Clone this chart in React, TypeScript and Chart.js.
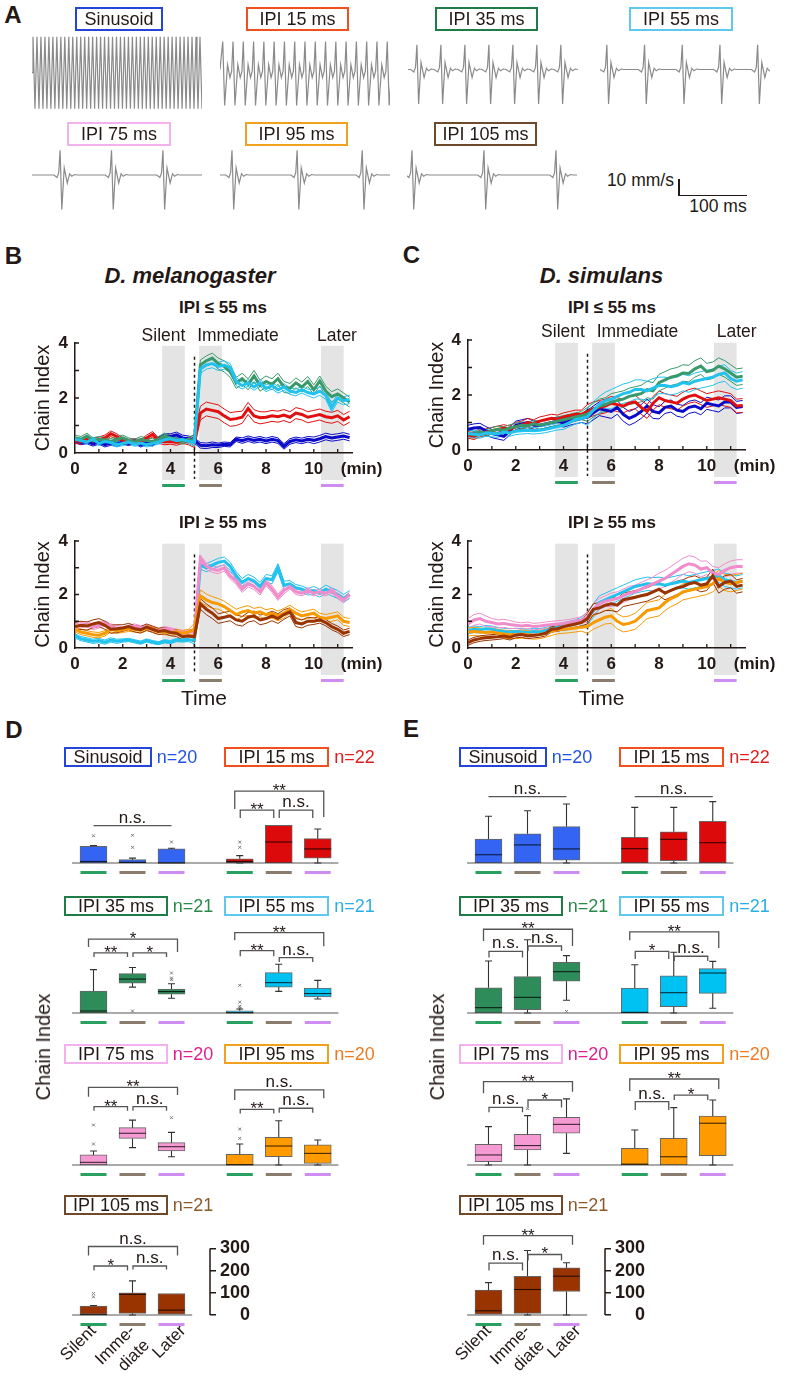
import React, { useEffect, useRef } from 'react';
import { Chart, registerables } from 'chart.js';

Chart.register(...registerables);

const FONT = '"Liberation Sans", Arial, Helvetica, sans-serif';
const INK = '#231815';
Chart.defaults.font.family = FONT;
Chart.defaults.color = INK;

// ---------------- Panel A : song waveforms (mm/s vs ms) ----------------
const PULSE_SHAPE = [[-9, 0], [-4.5, -1.5], [-2, 1.5], [0, 15.5], [2.5, -21.5], [6, 4.5], [10.5, -5], [14, 0.8], [17, -0.8], [21, 0.3], [25, 0]];
const SINE_CYCLE = [[0, -2], [1.45, 20.5], [2.9, -2], [4.35, -24.5]];
const IPI15_CYCLE = [[0, 17.5], [2.8, -22.5], [7, 3], [10.5, -5], [13, -1]];
const TRACE_NAMES = ['Sinusoid', 'IPI 15 ms', 'IPI 35 ms', 'IPI 55 ms', 'IPI 75 ms', 'IPI 95 ms', 'IPI 105 ms'];
const TRACE_PERIOD_MS = [5.8, 15, 35, 55, 75, 95, 105];
const TRACE_FIRST_MS = [0, 4, 13, 10, 41, 17.5, 7.3];
const TRACE_COUNT = [44, 17, 7, 5, 3, 3, 3];
const TRACE_MS = 248;

// ---------------- Panels B, C : chain index time courses ----------------
const TIME_MIN = [0, 0.25, 0.5, 0.75, 1, 1.25, 1.5, 1.75, 2, 2.25, 2.5, 2.75, 3, 3.25, 3.5, 3.75, 4, 4.25, 4.5, 4.75, 5, 5.25, 5.5, 5.75, 6, 6.25, 6.5, 6.75, 7, 7.25, 7.5, 7.75, 8, 8.25, 8.5, 8.75, 9, 9.25, 9.5, 9.75, 10, 10.25, 10.5, 10.75, 11, 11.25, 11.5];
const X_TICKS = [0, 2, 4, 6, 8, 10];
const Y_TICKS = [0, 2, 4];
const PERIOD_WINDOWS = [[3.65, 4.6], [5.2, 6.15], [10.3, 11.25]];
const STIM_ONSET = 5;

// D. melanogaster, IPI <= 55 ms
const MEL_LO_SIN_MEAN = [0.45, 0.38, 0.42, 0.33, 0.40, 0.30, 0.36, 0.32, 0.40, 0.35, 0.42, 0.30, 0.38, 0.33, 0.50, 0.62, 0.60, 0.66, 0.55, 0.52, 0.45, 0.28, 0.26, 0.30, 0.28, 0.32, 0.30, 0.50, 0.45, 0.52, 0.46, 0.50, 0.44, 0.50, 0.45, 0.24, 0.42, 0.48, 0.44, 0.50, 0.46, 0.52, 0.60, 0.55, 0.58, 0.62, 0.56];
const MEL_LO_SIN_SEM = [0.08, 0.08, 0.08, 0.08, 0.1, 0.1, 0.08, 0.1, 0.1, 0.1, 0.12, 0.12];
const MEL_LO_15_MEAN = [0.45, 0.42, 0.50, 0.44, 0.48, 0.55, 0.70, 0.60, 0.45, 0.40, 0.42, 0.38, 0.55, 0.68, 0.45, 0.40, 0.42, 0.38, 0.45, 0.40, 0.45, 1.45, 1.60, 1.55, 1.50, 1.35, 1.22, 1.25, 1.30, 1.62, 1.35, 1.28, 1.30, 1.35, 1.32, 1.38, 1.30, 1.45, 1.40, 1.30, 1.35, 1.40, 1.32, 1.28, 1.35, 1.20, 1.32];
const MEL_LO_15_SEM = [0.1, 0.1, 0.1, 0.1, 0.1, 0.25, 0.25, 0.22, 0.2, 0.2, 0.2, 0.2];
const MEL_LO_35_MEAN = [0.55, 0.50, 0.62, 0.45, 0.50, 0.48, 0.42, 0.50, 0.55, 0.45, 0.40, 0.50, 0.45, 0.42, 0.50, 0.62, 0.55, 0.48, 0.42, 0.50, 0.45, 3.20, 3.35, 3.45, 3.25, 3.15, 2.95, 2.55, 2.70, 2.50, 2.80, 2.45, 2.60, 2.50, 2.70, 2.40, 2.35, 2.55, 2.40, 2.60, 2.30, 2.62, 2.25, 2.05, 2.15, 2.00, 1.85];
const MEL_LO_35_SEM = [0.1, 0.1, 0.1, 0.1, 0.1, 0.18, 0.2, 0.2, 0.2, 0.18, 0.18, 0.18];
const MEL_LO_55_MEAN = [0.50, 0.45, 0.40, 0.50, 0.35, 0.42, 0.38, 0.30, 0.35, 0.40, 0.32, 0.36, 0.30, 0.35, 0.40, 0.48, 0.52, 0.45, 0.50, 0.42, 0.40, 3.05, 3.20, 3.25, 3.15, 3.20, 3.10, 2.60, 2.45, 2.55, 2.40, 2.55, 2.35, 2.45, 2.30, 2.40, 2.25, 2.20, 2.30, 2.20, 2.15, 2.25, 2.10, 1.65, 2.00, 1.90, 1.95];
const MEL_LO_55_SEM = [0.08, 0.08, 0.08, 0.08, 0.08, 0.15, 0.15, 0.12, 0.12, 0.12, 0.15, 0.15];

// D. melanogaster, IPI >= 55 ms
const MEL_HI_55_MEAN = [0.45, 0.35, 0.30, 0.25, 0.28, 0.22, 0.30, 0.25, 0.28, 0.30, 0.25, 0.20, 0.28, 0.22, 0.18, 0.25, 0.22, 0.30, 0.28, 0.30, 0.30, 3.10, 3.00, 3.10, 3.20, 3.25, 3.05, 2.70, 2.45, 2.60, 2.50, 2.30, 2.60, 2.55, 3.00, 2.35, 2.40, 2.25, 2.20, 2.10, 2.15, 2.05, 2.20, 2.10, 2.00, 1.85, 2.00];
const MEL_HI_55_SEM = [0.08, 0.08, 0.06, 0.06, 0.06, 0.15, 0.15, 0.15, 0.15, 0.12, 0.15, 0.15];
const MEL_HI_75_MEAN = [0.80, 0.85, 0.90, 0.78, 0.85, 0.92, 0.80, 0.75, 0.70, 0.78, 0.82, 0.75, 0.80, 0.70, 0.65, 0.72, 0.68, 0.62, 0.58, 0.60, 0.60, 3.35, 3.05, 2.95, 2.90, 3.00, 2.70, 2.50, 2.20, 2.40, 2.30, 2.10, 2.45, 2.20, 1.90, 2.15, 2.30, 2.10, 2.05, 2.15, 2.05, 2.10, 2.05, 2.15, 1.95, 1.80, 2.00];
const MEL_HI_75_SEM = [0.1, 0.1, 0.08, 0.08, 0.08, 0.12, 0.12, 0.12, 0.12, 0.1, 0.1, 0.1];
const MEL_HI_95_MEAN = [0.70, 0.60, 0.55, 0.50, 0.48, 0.55, 0.70, 0.65, 0.68, 0.72, 0.70, 0.66, 0.75, 0.70, 0.62, 0.60, 0.58, 0.60, 0.55, 0.60, 0.70, 1.95, 1.80, 1.70, 1.65, 1.55, 1.40, 1.25, 1.35, 1.40, 1.30, 1.35, 1.25, 1.30, 1.20, 1.30, 1.45, 1.30, 1.20, 1.25, 1.30, 1.15, 1.10, 1.15, 1.20, 1.00, 0.95];
const MEL_HI_95_SEM = [0.1, 0.1, 0.1, 0.1, 0.1, 0.22, 0.2, 0.18, 0.18, 0.15, 0.15, 0.15];
const MEL_HI_105_MEAN = [0.80, 0.85, 0.82, 0.90, 0.95, 0.85, 0.70, 0.72, 0.75, 0.80, 0.72, 0.68, 0.78, 0.70, 0.62, 0.65, 0.58, 0.55, 0.42, 0.45, 0.42, 1.65, 1.45, 1.30, 1.10, 1.15, 1.20, 1.05, 1.00, 1.15, 1.20, 1.05, 1.10, 1.20, 1.10, 1.25, 1.35, 0.95, 0.90, 1.00, 1.00, 1.05, 0.95, 0.80, 0.70, 0.55, 0.62];
const MEL_HI_105_SEM = [0.15, 0.15, 0.12, 0.12, 0.12, 0.2, 0.18, 0.18, 0.18, 0.15, 0.12, 0.12];

// D. simulans, IPI <= 55 ms
const SIM_LO_SIN_MEAN = [0.75, 0.80, 0.82, 0.70, 0.60, 0.55, 0.50, 0.70, 0.90, 0.95, 1.00, 0.90, 0.90, 0.95, 1.00, 1.05, 0.98, 1.05, 1.10, 1.15, 1.20, 1.35, 1.50, 1.45, 1.40, 1.55, 1.30, 1.15, 1.25, 1.40, 1.60, 1.40, 1.35, 1.55, 1.60, 1.45, 1.40, 1.55, 1.60, 1.50, 1.70, 1.65, 1.60, 1.75, 1.75, 1.55, 1.58];
const SIM_LO_SIN_SEM = [0.15, 0.15, 0.15, 0.15, 0.15, 0.25, 0.25, 0.25, 0.22, 0.22, 0.22, 0.22];
const SIM_LO_15_MEAN = [0.55, 0.50, 0.60, 0.65, 0.70, 0.75, 0.80, 0.75, 0.85, 0.90, 1.00, 0.95, 1.05, 1.10, 1.15, 1.12, 1.20, 1.25, 1.30, 1.30, 1.40, 1.50, 1.55, 1.60, 1.70, 1.65, 1.60, 1.70, 1.75, 1.55, 1.40, 1.70, 1.90, 1.80, 1.75, 1.70, 1.85, 1.95, 2.00, 1.90, 1.80, 1.85, 1.90, 1.85, 1.80, 1.60, 1.62];
const SIM_LO_15_SEM = [0.12, 0.12, 0.15, 0.15, 0.15, 0.25, 0.25, 0.25, 0.25, 0.25, 0.25, 0.25];
const SIM_LO_35_MEAN = [0.60, 0.55, 0.65, 0.62, 0.70, 0.75, 0.72, 0.80, 0.85, 0.90, 0.88, 0.95, 0.90, 0.95, 1.00, 1.05, 1.10, 1.15, 1.20, 1.25, 1.30, 1.45, 1.60, 1.65, 1.75, 1.80, 1.85, 1.95, 2.00, 2.05, 2.20, 2.15, 2.45, 2.55, 2.65, 2.70, 2.80, 2.78, 2.95, 3.05, 2.85, 2.90, 3.05, 2.95, 2.80, 2.65, 2.68];
const SIM_LO_35_SEM = [0.12, 0.12, 0.12, 0.15, 0.15, 0.25, 0.3, 0.3, 0.3, 0.3, 0.3, 0.3];
const SIM_LO_55_MEAN = [0.60, 0.58, 0.55, 0.62, 0.60, 0.58, 0.65, 0.62, 0.68, 0.70, 0.72, 0.70, 0.72, 0.75, 0.80, 0.85, 0.90, 1.00, 1.10, 1.15, 1.20, 1.45, 1.65, 1.80, 1.85, 1.95, 2.05, 2.10, 2.20, 2.20, 2.15, 2.25, 2.35, 2.35, 2.30, 2.35, 2.45, 2.40, 2.50, 2.55, 2.60, 2.65, 2.75, 2.80, 2.60, 2.50, 2.55];
const SIM_LO_55_SEM = [0.12, 0.12, 0.12, 0.12, 0.15, 0.3, 0.35, 0.35, 0.3, 0.3, 0.3, 0.3];

// D. simulans, IPI >= 55 ms
const SIM_HI_55_MEAN = [0.65, 0.70, 0.68, 0.72, 0.70, 0.65, 0.62, 0.60, 0.62, 0.60, 0.58, 0.62, 0.60, 0.65, 0.70, 0.78, 0.80, 0.85, 0.90, 1.00, 1.10, 1.40, 1.70, 1.80, 1.90, 2.00, 2.10, 2.20, 2.30, 2.35, 2.40, 2.38, 2.40, 2.35, 2.40, 2.45, 2.50, 2.45, 2.50, 2.55, 2.60, 2.65, 2.70, 2.55, 2.50, 2.45, 2.50];
const SIM_HI_55_SEM = [0.12, 0.12, 0.12, 0.12, 0.15, 0.25, 0.25, 0.25, 0.25, 0.25, 0.25, 0.25];
const SIM_HI_75_MEAN = [0.90, 1.05, 1.10, 1.00, 0.95, 0.90, 0.92, 0.88, 0.85, 0.82, 0.85, 0.80, 0.82, 0.85, 0.88, 0.90, 0.92, 0.95, 1.00, 1.05, 1.15, 1.45, 1.65, 1.75, 1.80, 1.85, 1.95, 2.05, 2.10, 2.20, 2.30, 2.40, 2.50, 2.60, 2.75, 2.90, 3.05, 3.15, 3.10, 2.95, 3.00, 2.80, 2.75, 2.90, 3.00, 3.05, 3.05];
const SIM_HI_75_SEM = [0.2, 0.15, 0.12, 0.12, 0.12, 0.2, 0.25, 0.25, 0.3, 0.3, 0.25, 0.25];
const SIM_HI_95_MEAN = [0.60, 0.62, 0.60, 0.58, 0.60, 0.55, 0.52, 0.50, 0.50, 0.52, 0.50, 0.48, 0.50, 0.55, 0.62, 0.68, 0.70, 0.72, 0.75, 0.78, 0.80, 0.95, 1.05, 1.15, 1.20, 1.00, 0.88, 0.92, 1.00, 1.20, 1.40, 1.45, 1.50, 1.70, 1.85, 1.95, 2.10, 2.15, 2.20, 2.25, 2.30, 2.40, 2.60, 2.45, 2.40, 2.45, 2.50];
const SIM_HI_95_SEM = [0.15, 0.15, 0.15, 0.15, 0.15, 0.25, 0.28, 0.3, 0.3, 0.3, 0.3, 0.3];
const SIM_HI_105_MEAN = [0.20, 0.30, 0.35, 0.38, 0.40, 0.42, 0.45, 0.40, 0.48, 0.50, 0.45, 0.48, 0.50, 0.55, 0.70, 0.72, 0.80, 0.85, 0.90, 0.95, 1.10, 1.45, 1.50, 1.60, 1.65, 1.60, 1.80, 1.85, 1.90, 1.95, 2.00, 2.10, 2.20, 2.05, 2.15, 2.25, 2.30, 2.40, 2.45, 2.35, 2.40, 2.70, 2.30, 2.45, 2.50, 2.30, 2.35];
const SIM_HI_105_SEM = [0.1, 0.1, 0.1, 0.1, 0.12, 0.2, 0.25, 0.25, 0.25, 0.25, 0.25, 0.25];

// ---------------- Panels D, E : box plots [low whisker, Q1, median, Q3, high whisker] ----------------
const PERIOD_LABELS = ['Silent', ['Imme-', 'diate'], 'Later'];
const AXIS_TICKS = [0, 100, 200, 300];
const N_MEL = [20, 22, 21, 21, 20, 20, 21];
const N_SIM = [20, 22, 21, 21, 20, 20, 21];

const MEL_SIN_BOX = [[0, 0, 7, 75, 78], [0, 0, 3, 15, 22], [0, 0, 0, 63, 66]];
const MEL_SIN_OUT = [[122], [124, 70], [94]];
const MEL_SIN_SIG = [[0, 2, 167, 167, 167, 'n.s.']];
const MEL_15_BOX = [[0, 2, 7, 19, 33], [0, 0, 94, 169, 169], [0, 22, 63, 109, 152]];
const MEL_15_OUT = [[94, 70], [], []];
const MEL_15_SIG = [[0, 1, 237, 201, 201, '**'], [1, 2, 237, 201, 201, 'n.s.'], [0, 2, 322, 242, 206, '**']];
const MEL_35_BOX = [[0, 0, 9, 98, 194], [116, 134, 152, 176, 204], [66, 84, 96, 107, 131]];
const MEL_35_OUT = [[], [9], [179, 157, 149]];
const MEL_35_SIG = [[0, 1, 269, 251, 251, '**'], [1, 2, 269, 251, 251, '*'], [0, 2, 331, 296, 273, '*']];
const MEL_55_BOX = [[0, 0, 1, 10, 18], [97, 116, 136, 181, 218], [63, 72, 87, 112, 146]];
const MEL_55_OUT = [[124, 49, 30, 22], [], []];
const MEL_55_SIG = [[0, 1, 279, 254, 254, '**'], [1, 2, 248, 228, 228, 'n.s.'], [0, 2, 360, 326, 299, '**']];
const MEL_75_BOX = [[0, 0, 12, 45, 63], [78, 119, 142, 167, 201], [37, 63, 82, 100, 146]];
const MEL_75_OUT = [[94, 179], [], [212]];
const MEL_75_SIG = [[0, 1, 261, 243, 243, '**'], [1, 2, 261, 243, 243, 'n.s.'], [0, 2, 348, 306, 313, '**']];
const MEL_95_BOX = [[0, 0, 1, 48, 94], [0, 37, 85, 124, 198], [0, 7, 52, 90, 112]];
const MEL_95_OUT = [[119, 161], [], []];
const MEL_95_SIG = [[0, 1, 249, 231, 231, '**'], [1, 2, 254, 234, 234, 'n.s.'], [0, 2, 336, 291, 299, 'n.s.']];
const MEL_105_BOX = [[0, 0, 2, 40, 43], [0, 7, 93, 100, 154], [0, 0, 22, 97, 97]];
const MEL_105_OUT = [[97, 82], [], []];
const MEL_105_SIG = [[0, 1, 221, 201, 201, '*'], [1, 2, 221, 205, 205, 'n.s.'], [0, 2, 309, 269, 269, 'n.s.']];

const SIM_SIN_BOX = [[0, 0, 37, 107, 209], [0, 0, 81, 131, 234], [0, 13, 63, 163, 264]];
const SIM_SIN_OUT = [[], [], []];
const SIM_SIN_SIG = [[0, 2, 297, 297, 297, 'n.s.']];
const SIM_15_BOX = [[0, 0, 64, 115, 249], [0, 10, 106, 140, 249], [0, 0, 91, 187, 275]];
const SIM_15_OUT = [[], [], []];
const SIM_15_SIG = [[0, 2, 297, 297, 297, 'n.s.']];
const SIM_35_BOX = [[0, 0, 24, 113, 233], [0, 15, 70, 163, 328], [57, 142, 185, 227, 257]];
const SIM_35_OUT = [[], [], [7]];
const SIM_35_SIG = [[0, 1, 276, 248, 248, 'n.s.'], [1, 2, 300, 278, 278, 'n.s.'], [0, 2, 375, 322, 300, '**']];
const SIM_55_BOX = [[0, 0, 3, 112, 216], [0, 28, 91, 166, 272], [21, 88, 179, 199, 231]];
const SIM_55_OUT = [[], [], []];
const SIM_55_SIG = [[0, 1, 276, 242, 242, '*'], [1, 2, 254, 233, 233, 'n.s.'], [0, 2, 363, 326, 291, '**']];
const SIM_75_BOX = [[0, 15, 45, 93, 172], [0, 67, 87, 137, 221], [52, 142, 182, 213, 296]];
const SIM_75_OUT = [[], [252], []];
const SIM_75_SIG = [[0, 1, 258, 236, 236, 'n.s.'], [1, 2, 291, 258, 258, '*'], [0, 2, 373, 321, 328, '**']];
const SIM_95_BOX = [[0, 0, 4, 75, 157], [0, 0, 37, 119, 257], [0, 42, 187, 219, 291]];
const SIM_95_OUT = [[], [], []];
const SIM_95_SIG = [[0, 1, 284, 246, 246, 'n.s.'], [1, 2, 313, 291, 291, '*'], [0, 2, 385, 331, 340, '**']];
const SIM_105_BOX = [[0, 0, 19, 112, 146], [0, 7, 115, 175, 291], [0, 106, 175, 213, 236]];
const SIM_105_OUT = [[], [], []];
const SIM_105_SIG = [[0, 1, 234, 201, 201, 'n.s.'], [1, 2, 273, 246, 246, '*'], [0, 2, 358, 317, 317, '**']];

// ---------------- styles ----------------
const GROUP_EDGE = ['#2446d8', '#f0501e', '#1f7c47', '#5ec8ee', '#f3b2ee', '#f0a21e', '#6f4a2a'];
const GROUP_FILL = ['#3465f2', '#dc0a0a', '#2e8b5a', '#00c2f2', '#f59ad2', '#ff9a00', '#993300'];
const N_COLOR = ['#2452e8', '#e01e1e', '#2a8a4a', '#29aee6', '#e0208f', '#f07a20', '#8b5a2b'];
const LINE_COLOR = ['#0a0ac8', '#e01010', '#38996a', '#22c2ee', '#f08ccb', '#f79a00', '#993300'];
const PERIOD_COLORS = ['#27a060', '#8b7c6d', '#cf8df2'];

const baseOptions = () => ({
  animation: false,
  responsive: false,
  maintainAspectRatio: false,
  devicePixelRatio: 1,
  events: [],
  plugins: { legend: { display: false }, tooltip: { enabled: false } },
});

// ---------------- Panel A config ----------------
function buildTrace(k: number) {
  const cycle = k === 0 ? SINE_CYCLE : k === 1 ? IPI15_CYCLE : PULSE_SHAPE;
  const pts: { x: number; y: number }[] = [];
  for (let n = 0; n < TRACE_COUNT[k]; n++) {
    for (const [dt, v] of cycle) pts.push({ x: TRACE_FIRST_MS[k] + n * TRACE_PERIOD_MS[k] + dt, y: v });
  }
  pts.sort((a, b) => a.x - b.x);
  if (pts[0].x > 0) pts.unshift({ x: 0, y: 0 });
  if (pts[pts.length - 1].x < TRACE_MS) pts.push({ x: TRACE_MS, y: 0 });
  return pts;
}

function traceConfig(k: number, baseRel: number, h: number) {
  const pxPerUnit = 1.6;
  return {
    type: 'line',
    data: { datasets: [{ data: buildTrace(k), borderColor: '#8a8a8a', borderWidth: 1.2, pointRadius: 0, tension: 0 }] },
    options: {
      ...baseOptions(),
      layout: { padding: 0 },
      scales: {
        x: { type: 'linear', display: false, min: 0, max: TRACE_MS },
        y: { type: 'linear', display: false, min: -(h - baseRel) / pxPerUnit, max: baseRel / pxPerUnit },
      },
    },
  };
}

// ---------------- Panels B/C config ----------------
function timeDecor() {
  return {
    id: 'timeDecor',
    beforeDraw(chart: any) {
      const { ctx, chartArea: a, scales } = chart;
      const X = scales.x, Y = scales.y;
      ctx.save();
      ctx.fillStyle = '#e4e4e4';
      const yt = Y.getPixelForValue(3.9);
      for (const [s, e] of PERIOD_WINDOWS) {
        const x1 = X.getPixelForValue(s), x2 = X.getPixelForValue(e);
        ctx.fillRect(x1, yt, x2 - x1, a.bottom + 27 - yt);
      }
      ctx.restore();
    },
    beforeDatasetsDraw(chart: any) {
      const { ctx, chartArea: a, scales } = chart;
      const xp = Math.round(scales.x.getPixelForValue(STIM_ONSET)) + 0.5;
      ctx.save();
      ctx.strokeStyle = INK;
      ctx.lineWidth = 1.5;
      ctx.setLineDash([3, 3]);
      ctx.beginPath();
      ctx.moveTo(xp, scales.y.getPixelForValue(3.5));
      ctx.lineTo(xp, a.bottom + 26);
      ctx.stroke();
      ctx.restore();
    },
    afterDraw(chart: any) {
      const { ctx, chartArea: a, scales } = chart;
      const X = scales.x, Y = scales.y;
      ctx.save();
      ctx.strokeStyle = INK;
      ctx.lineWidth = 1.3;
      ctx.beginPath();
      for (let t = 1; t <= 11; t++) {
        const xp = X.getPixelForValue(t);
        ctx.moveTo(xp, a.bottom);
        ctx.lineTo(xp, a.bottom - 4);
      }
      for (let v = 1; v <= 4; v++) {
        const yp = Y.getPixelForValue(v);
        ctx.moveTo(a.left, yp);
        ctx.lineTo(a.left + 4, yp);
      }
      ctx.stroke();
      PERIOD_WINDOWS.forEach(([s, e], i) => {
        const x1 = X.getPixelForValue(s), x2 = X.getPixelForValue(e);
        ctx.fillStyle = PERIOD_COLORS[i];
        ctx.fillRect(x1, a.bottom + 31, x2 - x1, 3);
      });
      ctx.fillStyle = INK;
      ctx.font = 'bold 17px ' + FONT;
      ctx.textAlign = 'center';
      ctx.textBaseline = 'middle';
      ctx.fillText('(min)', X.getPixelForValue(12.0), a.bottom + 6 + 10.2);
      ctx.restore();
    },
  };
}

function timeConfig(series: { mean: number[]; sem: number[]; color: string }[], titlePad: number, padRight: number) {
  const n = series.length;
  const datasets: any[] = [];
  series.forEach((s, k) => {
    const pts = (f: (m: number, e: number) => number) =>
      s.mean.map((m, i) => ({ x: TIME_MIN[i], y: f(m, s.sem[Math.floor(TIME_MIN[i])]) }));
    const common = { borderColor: s.color, pointRadius: 0, tension: 0, fill: false };
    datasets.push({ ...common, data: pts((m, e) => m + e), borderWidth: 1, order: 10 + n - k });
    datasets.push({ ...common, data: pts((m, e) => m - e), borderWidth: 1, order: 10 + n - k });
    datasets.push({ ...common, data: pts((m) => m), borderWidth: 3, order: n - k });
  });
  const tickFont = { size: 17, weight: 'bold', family: FONT };
  return {
    type: 'line',
    data: { datasets },
    options: {
      ...baseOptions(),
      layout: { padding: { left: 0, right: padRight, top: 23, bottom: 0 } },
      scales: {
        x: {
          type: 'linear', min: 0, max: 11.6,
          afterBuildTicks: (s: any) => { s.ticks = X_TICKS.map((v) => ({ value: v })); },
          ticks: { font: tickFont, color: INK, padding: 6, autoSkip: false, maxRotation: 0 },
          grid: { display: false, drawTicks: false },
          border: { display: true, color: INK, width: 1.5 },
          afterFit: (s: any) => { s.height = 42; },
        },
        y: {
          type: 'linear', min: 0, max: 4,
          afterBuildTicks: (s: any) => { s.ticks = Y_TICKS.map((v) => ({ value: v })); },
          ticks: { font: tickFont, color: INK, padding: 7 },
          grid: { display: false, drawTicks: false },
          border: { display: true, color: INK, width: 1.5 },
          title: { display: true, text: 'Chain Index', color: INK, font: { size: 20, family: FONT }, padding: { top: titlePad, bottom: 0 } },
          afterFit: (s: any) => { s.width = 75; },
        },
      },
    },
    plugins: [timeDecor()],
  };
}

// ---------------- Panels D/E config ----------------
const BOX_X0 = 93.5;
const BOX_STEP = 39;
const AREA_L = 66;
const AREA_R = 342;
const AXIS_R = 210;
const BOX_CANVAS_W = 391;
const AREA_H = 105;
const PX_PER_UNIT = 67 / 300;
const GROUP_OFFSET = [0, 3.75];
const LABEL_TICK_POS = [0, 1, 2.3];

function boxDecor(items: { x: number; s: number[]; i: number }[], sigs: { off: number; list: any[] }[], last: boolean) {
  return {
    id: 'boxDecor',
    beforeDatasetsDraw(chart: any) {
      const { ctx, scales } = chart;
      const X = scales.x, Y = scales.y;
      const y0 = Y.getPixelForValue(0);
      const xs = items.map((it) => it.x);
      ctx.save();
      ctx.strokeStyle = '#8e8e8e';
      ctx.lineWidth = 1.5;
      ctx.beginPath();
      ctx.moveTo(X.getPixelForValue(Math.min(...xs) - 0.55), y0);
      ctx.lineTo(X.getPixelForValue(Math.max(...xs) + 0.53), y0);
      ctx.stroke();
      ctx.restore();
    },
    afterDatasetsDraw(chart: any) {
      const { ctx, scales, chartArea: a } = chart;
      const X = scales.x, Y = scales.y;
      const y0 = Y.getPixelForValue(0);
      ctx.save();
      for (const it of items) {
        const cx = X.getPixelForValue(it.x);
        const [lo, q1, med, q3, hi] = it.s;
        ctx.strokeStyle = '#333';
        ctx.lineWidth = 1.1;
        ctx.beginPath();
        if (hi > q3) {
          ctx.moveTo(cx, Y.getPixelForValue(q3)); ctx.lineTo(cx, Y.getPixelForValue(hi));
          ctx.moveTo(cx - 3.5, Y.getPixelForValue(hi)); ctx.lineTo(cx + 3.5, Y.getPixelForValue(hi));
        }
        if (lo < q1) {
          ctx.moveTo(cx, Y.getPixelForValue(q1)); ctx.lineTo(cx, Y.getPixelForValue(lo));
          ctx.moveTo(cx - 3.5, Y.getPixelForValue(lo)); ctx.lineTo(cx + 3.5, Y.getPixelForValue(lo));
        }
        ctx.stroke();
        ctx.strokeStyle = 'rgba(0,0,0,0.75)';
        ctx.beginPath();
        ctx.moveTo(cx - 13.5, Y.getPixelForValue(med));
        ctx.lineTo(cx + 13.5, Y.getPixelForValue(med));
        ctx.stroke();
        ctx.fillStyle = PERIOD_COLORS[it.i];
        ctx.fillRect(cx - 13, y0 + 8, 26, 3);
      }
      ctx.strokeStyle = '#555';
      ctx.lineWidth = 1.3;
      ctx.fillStyle = INK;
      ctx.font = '17px ' + FONT;
      ctx.textAlign = 'center';
      ctx.textBaseline = 'alphabetic';
      for (const g of sigs) {
        for (const [i, j, top, le, re, label] of g.list) {
          const xa = X.getPixelForValue(g.off + i), xb = X.getPixelForValue(g.off + j);
          let x1 = xa, x2 = xb;
          if (!(top === le && top === re)) {
            if (j - i === 1) { x1 = xa + 0.5; x2 = xb - 5; } else { x1 = xa - 5; x2 = xb + 6; }
          }
          const yt = Y.getPixelForValue(top);
          ctx.beginPath();
          ctx.moveTo(x1, Y.getPixelForValue(le));
          ctx.lineTo(x1, yt);
          ctx.lineTo(x2, yt);
          ctx.lineTo(x2, Y.getPixelForValue(re));
          ctx.stroke();
          const ty = String(label).includes('*') ? yt + 5 : yt - 3;
          ctx.fillText(label, (x1 + x2) / 2, ty);
        }
      }
      if (last) {
        ctx.strokeStyle = INK;
        ctx.lineWidth = 1.5;
        ctx.beginPath();
        ctx.moveTo(a.right, Y.getPixelForValue(0));
        ctx.lineTo(a.right, Y.getPixelForValue(300));
        ctx.stroke();
      }
      ctx.restore();
    },
  };
}

function boxConfig(groups: number[], boxes: any[][], outs: any[][], sigs: any[][], last: boolean) {
  const right = last ? AXIS_R : AREA_R;
  const xmin = (AREA_L - BOX_X0) / BOX_STEP;
  const xmax = (right - BOX_X0) / BOX_STEP;
  const ymax = AREA_H / PX_PER_UNIT;
  const barData: any[] = [], barColors: string[] = [], outData: any[] = [], items: any[] = [], sigList: any[] = [];
  groups.forEach((g, gi) => {
    const off = GROUP_OFFSET[gi];
    boxes[g].forEach((b: number[], i: number) => {
      const xv = off + i;
      barData.push({ x: xv, y: [b[1], b[3]] });
      barColors.push(GROUP_FILL[g]);
      items.push({ x: xv, s: b, i });
      outs[g][i].forEach((v: number) => outData.push({ x: xv, y: v }));
    });
    sigList.push({ off, list: sigs[g] });
  });
  return {
    type: 'bar',
    data: {
      datasets: [
        { type: 'bar', data: barData, backgroundColor: barColors, borderColor: 'rgba(0,0,0,0.6)', borderWidth: 1, barThickness: 27, borderSkipped: false, order: 2 },
        { type: 'scatter', data: outData, pointStyle: 'crossRot', pointRadius: 2, borderColor: '#777', borderWidth: 1, order: 1 },
      ],
    },
    options: {
      ...baseOptions(),
      layout: { padding: { left: AREA_L, right: last ? BOX_CANVAS_W - AXIS_R - 40 : BOX_CANVAS_W - AREA_R, top: 12, bottom: last ? 0 : 15 } },
      scales: {
        x: {
          type: 'linear', min: xmin, max: xmax, offset: false, display: last,
          afterBuildTicks: (s: any) => { s.ticks = LABEL_TICK_POS.map((v) => ({ value: v })); },
          ticks: {
            font: { size: 17, family: FONT }, color: INK, padding: 6, minRotation: 45, maxRotation: 45, autoSkip: false,
            callback: (_v: any, idx: number) => PERIOD_LABELS[idx],
          },
          grid: { display: false, drawTicks: false },
          border: { display: false },
          afterFit: (s: any) => { if (last) s.height = 64; },
        },
        y: {
          type: 'linear', min: 0, max: ymax, display: last, position: 'right',
          afterBuildTicks: (s: any) => { s.ticks = AXIS_TICKS.map((v) => ({ value: v })); },
          ticks: { font: { size: 18, weight: 'bold', family: FONT }, color: INK, padding: 2, crossAlign: 'far' },
          grid: { display: true, drawOnChartArea: false, drawTicks: true, tickLength: 6, color: INK, lineWidth: 1.5 },
          border: { display: false },
          afterFit: (s: any) => { if (last) s.width = 40; },
        },
      },
    },
    plugins: [boxDecor(items, sigList, last)],
  };
}

const MEL_BOXES = [MEL_SIN_BOX, MEL_15_BOX, MEL_35_BOX, MEL_55_BOX, MEL_75_BOX, MEL_95_BOX, MEL_105_BOX];
const MEL_OUTS = [MEL_SIN_OUT, MEL_15_OUT, MEL_35_OUT, MEL_55_OUT, MEL_75_OUT, MEL_95_OUT, MEL_105_OUT];
const MEL_SIGS = [MEL_SIN_SIG, MEL_15_SIG, MEL_35_SIG, MEL_55_SIG, MEL_75_SIG, MEL_95_SIG, MEL_105_SIG];
const SIM_BOXES = [SIM_SIN_BOX, SIM_15_BOX, SIM_35_BOX, SIM_55_BOX, SIM_75_BOX, SIM_95_BOX, SIM_105_BOX];
const SIM_OUTS = [SIM_SIN_OUT, SIM_15_OUT, SIM_35_OUT, SIM_55_OUT, SIM_75_OUT, SIM_95_OUT, SIM_105_OUT];
const SIM_SIGS = [SIM_SIN_SIG, SIM_15_SIG, SIM_35_SIG, SIM_55_SIG, SIM_75_SIG, SIM_95_SIG, SIM_105_SIG];

const ROWS = [[0, 1], [2, 3], [4, 5], [6]];
const ROW_BASE = [863, 1013, 1165, 1315];
const ROW_LABEL_TOP = [747, 896, 1044, 1195];

// ---------------- components ----------------
function ChartCanvas({ x, y, w, h, make }: { x: number; y: number; w: number; h: number; make: () => any }) {
  const ref = useRef<HTMLCanvasElement | null>(null);
  useEffect(() => {
    if (!ref.current) return;
    const c = new Chart(ref.current, make());
    return () => c.destroy();
  }, []);
  return <canvas ref={ref} width={w} height={h} style={{ position: 'absolute', left: x, top: y, width: w, height: h, display: 'block' }} />;
}

function T({ x, y, size, bold, italic, color, align, rotate, children }: any) {
  const tx = align === 'right' ? '-100%' : align === 'left' ? '0' : '-50%';
  return (
    <div
      style={{
        position: 'absolute', left: x, top: y,
        transform: `translate(${tx},-50%)${rotate ? ` rotate(${rotate}deg)` : ''}`,
        fontSize: size, fontWeight: bold ? 700 : 400, fontStyle: italic ? 'italic' : 'normal',
        color: color || INK, whiteSpace: 'nowrap', lineHeight: 1, fontFamily: FONT,
      }}
    >
      {children}
    </div>
  );
}

function LBox({ x, y, w, h, color, text, size }: any) {
  return (
    <div
      style={{
        position: 'absolute', left: x, top: y, width: w, height: h, border: `2.5px solid ${color}`,
        boxSizing: 'border-box', display: 'flex', alignItems: 'center', justifyContent: 'center',
        fontSize: size, fontFamily: FONT, color: INK, lineHeight: 1, whiteSpace: 'nowrap', background: 'transparent',
      }}
    >
      {text}
    </div>
  );
}

const TRACE_POS = [[32, 30, 39.5], [220, 30, 39.5], [408, 30, 39.5], [600, 30, 39.5], [32, 138, 37], [220, 138, 37], [407, 138, 37]];
const A_BOX = [[75, 7, 88], [246, 7, 103], [435, 7, 103], [629, 7, 104], [67, 122, 104], [245, 122, 103], [434, 122, 103]];

export default function App() {
  useEffect(() => {
    document.body.style.margin = '0';
  }, []);

  const melLo = [
    { mean: MEL_LO_SIN_MEAN, sem: MEL_LO_SIN_SEM, color: LINE_COLOR[0] },
    { mean: MEL_LO_15_MEAN, sem: MEL_LO_15_SEM, color: LINE_COLOR[1] },
    { mean: MEL_LO_35_MEAN, sem: MEL_LO_35_SEM, color: LINE_COLOR[2] },
    { mean: MEL_LO_55_MEAN, sem: MEL_LO_55_SEM, color: LINE_COLOR[3] },
  ];
  const melHi = [
    { mean: MEL_HI_55_MEAN, sem: MEL_HI_55_SEM, color: LINE_COLOR[3] },
    { mean: MEL_HI_75_MEAN, sem: MEL_HI_75_SEM, color: LINE_COLOR[4] },
    { mean: MEL_HI_95_MEAN, sem: MEL_HI_95_SEM, color: LINE_COLOR[5] },
    { mean: MEL_HI_105_MEAN, sem: MEL_HI_105_SEM, color: LINE_COLOR[6] },
  ];
  const simLo = [
    { mean: SIM_LO_SIN_MEAN, sem: SIM_LO_SIN_SEM, color: LINE_COLOR[0] },
    { mean: SIM_LO_15_MEAN, sem: SIM_LO_15_SEM, color: LINE_COLOR[1] },
    { mean: SIM_LO_35_MEAN, sem: SIM_LO_35_SEM, color: LINE_COLOR[2] },
    { mean: SIM_LO_55_MEAN, sem: SIM_LO_55_SEM, color: LINE_COLOR[3] },
  ];
  const simHi = [
    { mean: SIM_HI_55_MEAN, sem: SIM_HI_55_SEM, color: LINE_COLOR[3] },
    { mean: SIM_HI_75_MEAN, sem: SIM_HI_75_SEM, color: LINE_COLOR[4] },
    { mean: SIM_HI_95_MEAN, sem: SIM_HI_95_SEM, color: LINE_COLOR[5] },
    { mean: SIM_HI_105_MEAN, sem: SIM_HI_105_SEM, color: LINE_COLOR[6] },
  ];

  const panels = [
    { dx: 0, boxes: MEL_BOXES, outs: MEL_OUTS, sigs: MEL_SIGS, ns: N_MEL },
    { dx: 395, boxes: SIM_BOXES, outs: SIM_OUTS, sigs: SIM_SIGS, ns: N_SIM },
  ];

  return (
    <div style={{ position: 'absolute', left: 0, top: 0, width: 786, height: 1379, background: '#fff', overflow: 'hidden', fontFamily: FONT, color: INK }}>
      {/* Panel A traces */}
      {TRACE_POS.map(([x, y, b], k) => (
        <ChartCanvas key={'tr' + k} x={x} y={y} w={170} h={84} make={() => traceConfig(k, b, 84)} />
      ))}

      {/* Panels B / C */}
      <ChartCanvas x={0} y={320} w={391} h={175} make={() => timeConfig(melLo, 31, 39)} />
      <ChartCanvas x={393} y={317} w={393} h={175} make={() => timeConfig(simLo, 32.5, 41)} />
      <ChartCanvas x={0} y={518} w={391} h={172} make={() => timeConfig(melHi, 31, 39)} />
      <ChartCanvas x={393} y={518} w={393} h={172} make={() => timeConfig(simHi, 32.5, 41)} />

      {/* Panels D / E */}
      {panels.map((p, pi) =>
        ROWS.map((groups, r) => {
          const last = r === 3;
          return (
            <ChartCanvas
              key={'bx' + pi + '-' + r}
              x={p.dx}
              y={ROW_BASE[r] - 117}
              w={BOX_CANVAS_W}
              h={last ? 181 : 132}
              make={() => boxConfig(groups, p.boxes, p.outs, p.sigs, last)}
            />
          );
        })
      )}

      {/* ---------- text overlays ---------- */}
      <T x={13} y={15} size={24} bold>A</T>
      <T x={13.5} y={255.5} size={24} bold>B</T>
      <T x={411.5} y={254.5} size={24} bold>C</T>
      <T x={14} y={729.5} size={24} bold>D</T>
      <T x={411} y={728.5} size={24} bold>E</T>

      {A_BOX.map(([x, y, w], k) => (
        <LBox key={'ab' + k} x={x} y={y} w={w} h={24} color={GROUP_EDGE[k]} text={TRACE_NAMES[k]} size={18} />
      ))}
      <T x={674} y={181} size={17.5} align="right">10 mm/s</T>
      <div style={{ position: 'absolute', left: 678, top: 179, width: 1.5, height: 17, background: INK }} />
      <div style={{ position: 'absolute', left: 678, top: 194.5, width: 69, height: 1.5, background: INK }} />
      <T x={718} y={207} size={17.5}>100 ms</T>

      <T x={190} y={275.5} size={22} bold italic>D. melanogaster</T>
      <T x={601.5} y={275.5} size={22} bold italic>D. simulans</T>
      <T x={223} y={306.5} size={17} bold>IPI ≤ 55 ms</T>
      <T x={612} y={306.5} size={17} bold>IPI ≤ 55 ms</T>
      <T x={223} y={521.5} size={17} bold>IPI ≥ 55 ms</T>
      <T x={612} y={521.5} size={17} bold>IPI ≥ 55 ms</T>
      <T x={163.5} y={335.5} size={17.5}>Silent</T>
      <T x={238} y={335.5} size={17.5}>Immediate</T>
      <T x={337} y={335.5} size={17.5}>Later</T>
      <T x={563} y={331.5} size={17.5}>Silent</T>
      <T x={637.5} y={331.5} size={17.5}>Immediate</T>
      <T x={736.7} y={331.5} size={17.5}>Later</T>
      <T x={204} y={697} size={21}>Time</T>
      <T x={601.5} y={697} size={21}>Time</T>

      <T x={42.5} y={1047} size={20} rotate={-90}>Chain Index</T>
      <T x={436.5} y={1047} size={20} rotate={-90}>Chain Index</T>

      {panels.map((p, pi) =>
        ROWS.map((groups, r) =>
          groups.map((g, slot) => {
            const boxX = slot === 0 ? 64 : 224;
            const boxW = g === 0 ? 88 : slot === 0 ? 104 : 105;
            const nX = slot === 0 ? (g === 0 ? 177 : 193) : 354.5;
            const top = ROW_LABEL_TOP[r];
            return (
              <React.Fragment key={'lb' + pi + '-' + g}>
                <LBox x={p.dx + boxX} y={top} w={boxW} h={19.5} color={GROUP_EDGE[g]} text={TRACE_NAMES[g]} size={18} />
                <T x={p.dx + nX} y={top + 9.5} size={18} color={N_COLOR[g]}>n={p.ns[g]}</T>
              </React.Fragment>
            );
          })
        )
      )}
    </div>
  );
}
